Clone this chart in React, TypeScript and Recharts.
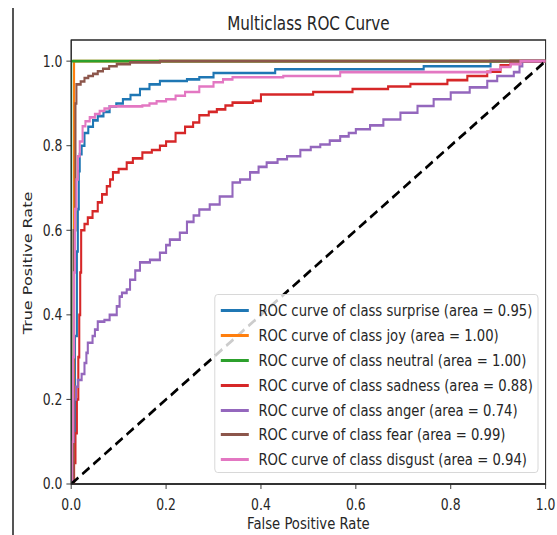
import { LineChart, Line, XAxis, YAxis, ReferenceArea, Legend } from 'recharts';

type Pt = [number, number];

// [false positive rate, true positive rate]
const surprise: Pt[] = [
  [0, 0], [0.004, 0.1], [0.008, 0.35], [0.012, 0.55], [0.014, 0.65], [0.016, 0.74], [0.018, 0.78],
  [0.022, 0.8], [0.028, 0.83], [0.036, 0.845], [0.046, 0.86], [0.056, 0.87], [0.068, 0.88],
  [0.081, 0.893], [0.095, 0.9], [0.109, 0.91], [0.125, 0.92], [0.145, 0.934], [0.165, 0.945],
  [0.187, 0.953], [0.244, 0.957], [0.27, 0.962], [0.3, 0.972], [0.43, 0.981], [0.743, 0.988],
  [0.884, 1.0], [1, 1],
];
const joy: Pt[] = [[0, 0], [0.006, 1.0], [1, 1]];
const neutral: Pt[] = [[0, 0], [0, 1.0], [1, 1]];
const sadness: Pt[] = [
  [0, 0], [0.006, 0.05], [0.009, 0.12], [0.012, 0.2], [0.015, 0.3], [0.017, 0.4], [0.019, 0.5],
  [0.021, 0.6], [0.028, 0.615], [0.035, 0.63], [0.045, 0.645], [0.056, 0.666], [0.065, 0.685],
  [0.075, 0.704], [0.082, 0.72], [0.088, 0.737], [0.1, 0.745], [0.117, 0.76], [0.13, 0.77],
  [0.15, 0.784], [0.17, 0.79], [0.187, 0.8], [0.2, 0.81], [0.22, 0.83], [0.24, 0.845],
  [0.257, 0.855], [0.27, 0.872], [0.29, 0.88], [0.307, 0.886], [0.325, 0.895], [0.34, 0.902],
  [0.383, 0.906], [0.4, 0.921], [0.51, 0.927], [0.593, 0.934], [0.668, 0.94], [0.715, 0.946],
  [0.793, 0.955], [0.835, 0.965], [0.877, 0.975], [0.905, 0.99], [0.926, 1.0], [1, 1],
];
const anger: Pt[] = [
  [0, 0], [0.003, 0.1], [0.006, 0.2], [0.01, 0.23], [0.014, 0.246], [0.022, 0.26], [0.028, 0.286],
  [0.032, 0.31], [0.035, 0.334], [0.045, 0.35], [0.05, 0.365], [0.056, 0.384], [0.07, 0.388],
  [0.081, 0.4], [0.096, 0.42], [0.102, 0.443], [0.107, 0.452], [0.117, 0.46], [0.124, 0.483],
  [0.135, 0.505], [0.145, 0.524], [0.166, 0.53], [0.187, 0.547], [0.2, 0.565], [0.208, 0.578],
  [0.229, 0.594], [0.244, 0.62], [0.258, 0.635], [0.27, 0.649], [0.292, 0.661], [0.313, 0.68],
  [0.34, 0.713], [0.356, 0.72], [0.377, 0.737], [0.395, 0.75], [0.412, 0.76], [0.435, 0.768],
  [0.455, 0.775], [0.483, 0.79], [0.505, 0.797], [0.525, 0.803], [0.545, 0.812], [0.567, 0.822],
  [0.585, 0.83], [0.6, 0.839], [0.63, 0.848], [0.658, 0.862], [0.694, 0.878], [0.73, 0.894],
  [0.764, 0.91], [0.8, 0.926], [0.84, 0.938], [0.877, 0.953], [0.898, 0.965], [0.933, 0.974],
  [0.945, 0.988], [0.951, 1.0], [1, 1],
];
const fear: Pt[] = [
  [0, 0], [0.005, 0.6], [0.009, 0.9], [0.011, 0.945], [0.02, 0.952], [0.028, 0.96], [0.036, 0.965],
  [0.046, 0.97], [0.056, 0.976], [0.067, 0.982], [0.08, 0.988], [0.096, 0.993], [0.124, 0.997],
  [0.187, 1.0], [1, 1],
];
const disgust: Pt[] = [
  [0, 0], [0.002, 0.1], [0.004, 0.3], [0.006, 0.5], [0.008, 0.65], [0.011, 0.72], [0.014, 0.775],
  [0.018, 0.81], [0.024, 0.846], [0.03, 0.858], [0.039, 0.867], [0.05, 0.875], [0.06, 0.882],
  [0.07, 0.888], [0.081, 0.893], [0.15, 0.895], [0.165, 0.9], [0.18, 0.905], [0.2, 0.91],
  [0.22, 0.918], [0.24, 0.927], [0.27, 0.94], [0.3, 0.95], [0.32, 0.957], [0.34, 0.962],
  [0.447, 0.965], [0.567, 0.974], [0.884, 0.98], [0.905, 0.986], [0.926, 0.993], [0.947, 1.0],
  [1, 1],
];
const chance: Pt[] = [[0, 0], [1, 1]];

const classNames = ['surprise', 'joy', 'neutral', 'sadness', 'anger', 'fear', 'disgust'];
const areas = ['0.95', '1.00', '1.00', '0.88', '0.74', '0.99', '0.94'];
const curves = [surprise, joy, neutral, sadness, anger, fear, disgust];
const xTicks = [0, 0.2, 0.4, 0.6, 0.8, 1.0];
const yTicks = [0, 0.2, 0.4, 0.6, 0.8, 1.0];

const colors = ['#1f77b4', '#ff7f0e', '#2ca02c', '#d62728', '#9467bd', '#8c564b', '#e377c2'];
const FONT = '"DejaVu Sans", sans-serif';
const INK = '#262626';
// the reference picture is squeezed horizontally, so draw wide and squeeze
const SX = 0.8;
const W = 696;
const H = 535;

const toRows = (pts: Pt[]) => pts.map(([fpr, tpr]) => ({ fpr, tpr }));

const renderLegend = () => (
  <div style={{
    width: 405, height: 179, boxSizing: 'border-box', paddingTop: 3.5,
    border: '1px solid #d4d4d4', borderRadius: 4, background: 'rgba(255,255,255,0.8)',
  }}>
    {classNames.map((c, i) => (
      <div key={c} style={{ height: 24.8, display: 'flex', alignItems: 'center', fontSize: 16.5, color: INK, whiteSpace: 'nowrap' }}>
        <span style={{ display: 'inline-block', marginLeft: 7, width: 35, height: 3, background: colors[i] }} />
        <span style={{ marginLeft: 12.5 }}>{`ROC curve of class ${c} (area = ${areas[i]})`}</span>
      </div>
    ))}
  </div>
);

export default function App() {
  return (
    <div style={{ position: 'absolute', left: 0, top: 0, width: 557, height: 535, background: '#fff', overflow: 'hidden' }}>
      <div style={{ position: 'absolute', left: 12, top: 8, width: 1.5, height: 527, background: '#555' }} />
      <div style={{
        position: 'absolute', left: 0, top: 0, width: W, height: H,
        transform: `scaleX(${SX})`, transformOrigin: '0 0', fontFamily: FONT, color: INK,
      }}>
        <LineChart width={W} height={H} margin={{ top: 40, right: 14, bottom: 21, left: 29 }}>
          <XAxis
            type="number" dataKey="fpr" domain={[0, 1]} ticks={xTicks} allowDataOverflow
            tickFormatter={(v: number) => v.toFixed(1)} height={30}
            tickSize={5} tickMargin={10} stroke={INK}
            tick={{ fontSize: 15.5, fill: INK }} axisLine={{ stroke: INK, strokeWidth: 1.3 }}
          />
          <YAxis
            type="number" domain={[0, 1.05]} ticks={yTicks} allowDataOverflow
            tickFormatter={(v: number) => v.toFixed(1)} width={60}
            tickSize={6} tickMargin={5} stroke={INK}
            tick={{ fontSize: 15.5, fill: INK }} axisLine={{ stroke: INK, strokeWidth: 1.3 }}
          />
          <ReferenceArea x1={0} x2={1} y1={0} y2={1.05} fill="none" stroke={INK} strokeWidth={1.3} ifOverflow="visible" />
          {curves.map((pts, i) => (
            <Line
              key={classNames[i]} data={toRows(pts)} dataKey="tpr" name={classNames[i]}
              type="stepAfter" stroke={colors[i]} strokeWidth={2.6}
              dot={false} activeDot={false} isAnimationActive={false}
            />
          ))}
          <Line
            data={toRows(chance)} dataKey="tpr" name="chance" type="linear" legendType="none"
            stroke="#000" strokeWidth={3} strokeDasharray="11 6"
            dot={false} activeDot={false} isAnimationActive={false}
          />
          <Legend
            layout="vertical" align="center" verticalAlign="middle" content={renderLegend}
            wrapperStyle={{ position: 'absolute', left: 267.5, top: 294, width: 405, height: 179 }}
          />
        </LineChart>
        <div style={{ position: 'absolute', left: 89, width: 593, top: 14, textAlign: 'center', fontSize: 19, lineHeight: 1, whiteSpace: 'nowrap' }}>
          Multiclass ROC Curve
        </div>
        <div style={{ position: 'absolute', left: 89, width: 593, top: 516, textAlign: 'center', fontSize: 16.5, lineHeight: 1, whiteSpace: 'nowrap' }}>
          False Positive Rate
        </div>
        <div style={{
          position: 'absolute', left: 35, top: 263, fontSize: 16, lineHeight: 1, whiteSpace: 'nowrap',
          transform: 'translate(-50%, -50%) rotate(-90deg)',
        }}>
          True Positive Rate
        </div>
      </div>
    </div>
  );
}
